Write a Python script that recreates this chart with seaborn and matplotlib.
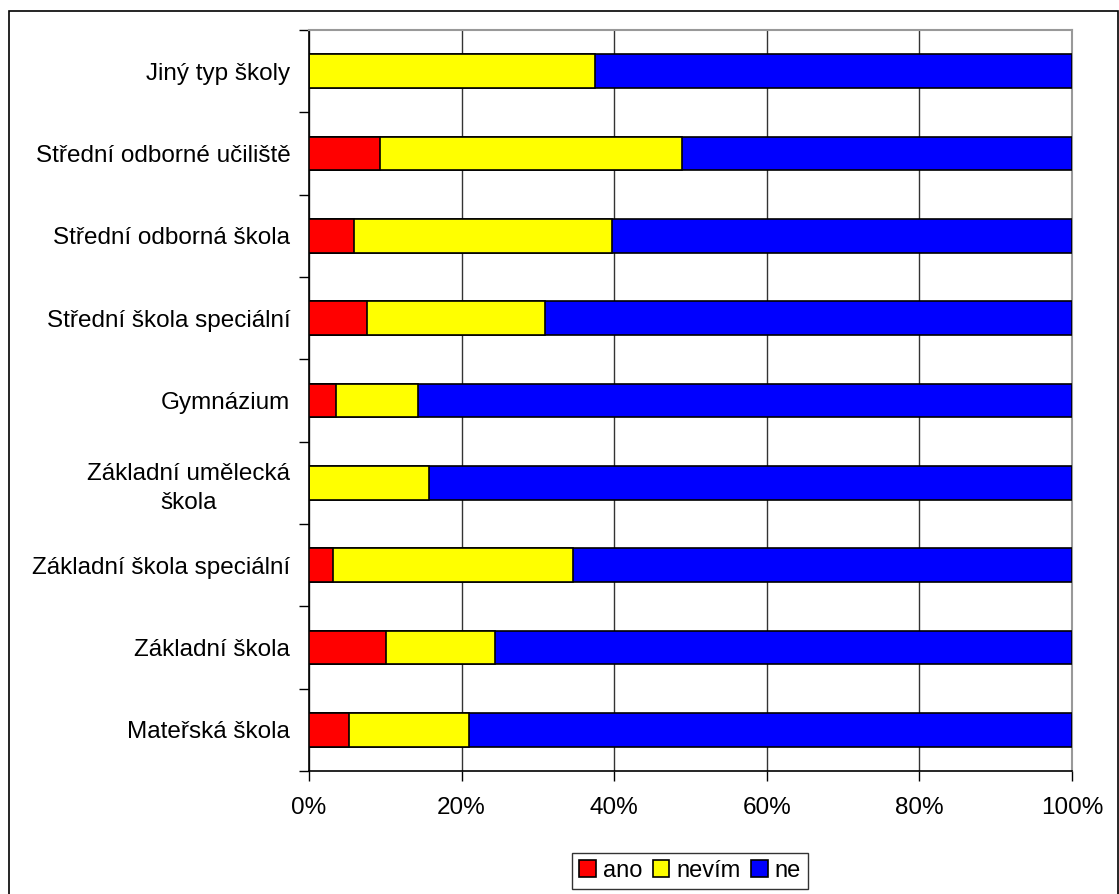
import matplotlib
matplotlib.use("Agg")
import matplotlib.pyplot as plt
import seaborn as sns
import pandas as pd
from matplotlib.patches import Patch, Rectangle
from matplotlib.ticker import FixedLocator, PercentFormatter

categories = [
    "Jiný typ školy",
    "Střední odborné učiliště",
    "Střední odborná škola",
    "Střední škola speciální",
    "Gymnázium",
    "Základní umělecká\nškola",
    "Základní škola speciální",
    "Základní škola",
    "Mateřská škola",
]
ano = [0.0, 9.3, 5.9, 7.6, 3.6, 0.0, 3.2, 10.1, 5.2]
nevim = [37.5, 39.6, 33.8, 23.3, 10.7, 15.7, 31.4, 14.3, 15.8]
ne = [62.5, 51.1, 60.3, 69.1, 85.7, 84.3, 65.4, 75.6, 79.0]
series_names = ["ano", "nevím", "ne"]
series_colors = ["#FF0000", "#FFFF00", "#0000FF"]

df = pd.DataFrame({"cat": categories, "ano": ano, "nevim": nevim, "ne": ne})
df["c_ano"] = df["ano"]
df["c_nevim"] = df["ano"] + df["nevim"]
df["c_ne"] = df["ano"] + df["nevim"] + df["ne"]

sns.set_theme(style="white")
plt.rcParams["font.family"] = ["Liberation Sans", "DejaVu Sans"]
plt.rcParams["text.color"] = "black"
plt.rcParams["xtick.color"] = "black"
plt.rcParams["ytick.color"] = "black"
plt.rcParams["xtick.labelcolor"] = "black"
plt.rcParams["ytick.labelcolor"] = "black"

FS = 17.5

fig = plt.figure(figsize=(11.19, 8.94), dpi=100)
ax = fig.add_axes([309 / 1119, 1 - 771 / 894, (1072 - 309) / 1119, (771 - 30) / 894])

for col, color in zip(["c_ne", "c_nevim", "c_ano"], series_colors[::-1]):
    sns.barplot(data=df, y="cat", x=col, orient="h", color=color, width=0.41,
                edgecolor="black", linewidth=1.2, saturation=1, ax=ax, zorder=3)

ax.set_xlim(0, 100)
ax.set_ylim(len(categories) - 0.5, -0.5)
ax.set_xlabel("")
ax.set_ylabel("")

ax.xaxis.set_major_locator(FixedLocator([0, 20, 40, 60, 80, 100]))
ax.xaxis.set_major_formatter(PercentFormatter(decimals=0))
ax.grid(axis="x", color="#333333", linewidth=1, zorder=0)
ax.grid(axis="y", visible=False)
ax.set_axisbelow(True)

# y ticks: boundaries as major ticks (no labels), centers as minor ticks with labels
n = len(categories)
ax.yaxis.set_major_locator(FixedLocator([i - 0.5 for i in range(n + 1)]))
ax.set_yticklabels([""] * (n + 1))
ax.yaxis.set_minor_locator(FixedLocator(list(range(n))))
ax.set_yticklabels(categories, minor=True)
for lbl in ax.get_yticklabels(minor=True):
    lbl.set_multialignment("center")
    lbl.set_linespacing(1.4)
    lbl.set_color("black")

ax.tick_params(axis="y", which="major", length=7, width=1, color="black", direction="out", left=True)
ax.tick_params(axis="y", which="minor", length=0, pad=13.5, labelsize=FS, left=True)
ax.tick_params(axis="x", which="major", length=7, width=1, color="black", direction="out",
               bottom=True, pad=12, labelsize=FS)
for lbl in ax.get_xticklabels():
    lbl.set_color("black")

for s in ["left", "bottom"]:
    ax.spines[s].set_color("black")
    ax.spines[s].set_linewidth(1.2)
for s in ["top", "right"]:
    ax.spines[s].set_color("#999999")
    ax.spines[s].set_linewidth(1.5)

handles = [Patch(facecolor=c, edgecolor="black", linewidth=1.2) for c in series_colors]
leg = fig.legend(handles, series_names, loc="center", bbox_to_anchor=(690 / 1119, 1 - 871 / 894),
                 bbox_transform=fig.transFigure, ncol=3, frameon=True, fancybox=False,
                 edgecolor="black", fontsize=17, handlelength=0.7, handleheight=0.7,
                 handletextpad=0.3, columnspacing=0.45, borderpad=0.28, borderaxespad=0)
leg.get_frame().set_linewidth(1.0)

fig.patches.append(Rectangle((9 / 1119, -0.01), (1118 - 9) / 1119, (894 - 11) / 894 + 0.01,
                             transform=fig.transFigure, fill=False, edgecolor="black",
                             linewidth=1.2, zorder=10))

fig.savefig("out.png", dpi=100, facecolor="white")
